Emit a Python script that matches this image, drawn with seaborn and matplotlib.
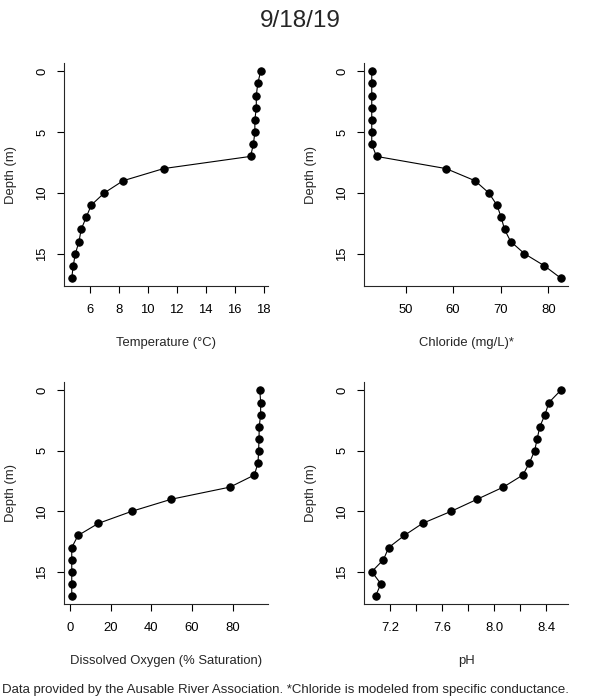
import matplotlib
matplotlib.use("Agg")
import matplotlib.pyplot as plt
import seaborn as sns
import pandas as pd

# depth profile, 9/18/19
depth = list(range(18))
temperature = [17.8, 17.6, 17.5, 17.5, 17.4, 17.4, 17.3, 17.1, 11.1, 8.3, 7.0, 6.1,
               5.75, 5.4, 5.25, 5.0, 4.85, 4.75]
chloride = [42.9, 42.9, 42.9, 42.9, 42.9, 42.9, 42.9, 43.9, 58.5, 64.6, 67.5, 69.2,
            70.1, 70.8, 72.1, 75.0, 79.2, 82.6]
oxygen = [93.4, 93.8, 93.8, 93.1, 93.0, 92.8, 92.5, 90.7, 78.7, 49.9, 30.4, 13.9,
          3.9, 0.8, 0.8, 0.8, 0.8, 0.8]
ph = [8.51, 8.42, 8.39, 8.35, 8.33, 8.31, 8.27, 8.22, 8.07, 7.87, 7.67, 7.45,
      7.31, 7.19, 7.15, 7.06, 7.13, 7.09]

df = pd.DataFrame({"depth": depth, "temp": temperature, "cl": chloride,
                   "do": oxygen, "ph": ph})

panels = [
    ("temp", "Temperature (°C)", [6, 8, 10, 12, 14, 16, 18], None),
    ("cl", "Chloride (mg/L)*", [50, 60, 70, 80], None),
    ("do", "Dissolved Oxygen (% Saturation)", [0, 20, 40, 60, 80], None),
    ("ph", "pH", [7.2, 7.4, 7.6, 7.8, 8.0, 8.2, 8.4],
     ["7.2", "", "7.6", "", "8.0", "", "8.4"]),
]

sns.set_style("ticks")
plt.rcParams["font.family"] = ["Liberation Sans", "DejaVu Sans"]
plt.rcParams["axes.linewidth"] = 0.8

fs = 9.4

fig = plt.figure(figsize=(6, 7), dpi=100)
fig.patch.set_facecolor("white")

# [left, bottom, width, height] in figure fractions
boxes = [
    [0.107, 0.591, 0.340, 0.319],
    [0.607, 0.591, 0.340, 0.319],
    [0.107, 0.137, 0.340, 0.317],
    [0.607, 0.137, 0.340, 0.317],
]

for (col, label, ticks, ticklabels), box in zip(panels, boxes):
    ax = fig.add_axes(box)
    sns.lineplot(data=df, x=col, y="depth", sort=False, estimator=None,
                 color="black", linewidth=0.8, marker="o", markersize=5.3,
                 markeredgecolor="black", markerfacecolor="black", ax=ax)
    ax.margins(x=0.04, y=0.04)
    ax.invert_yaxis()
    ax.set_yticks([0, 5, 10, 15])
    ax.set_xticks(ticks)
    if ticklabels is not None:
        ax.set_xticklabels(ticklabels)
    ax.tick_params(axis="both", length=5, width=0.8, labelsize=fs,
                   colors="black")
    ax.tick_params(axis="x", pad=8)
    ax.tick_params(axis="y", pad=6.5)
    for t in ax.get_yticklabels():
        t.set_rotation(90)
        t.set_va("center")
    ax.set_xlabel(label, fontsize=fs, labelpad=15)
    ax.set_ylabel("Depth (m)", fontsize=fs, labelpad=13.5)
    ax.grid(False)
    sns.despine(ax=ax)

fig.text(0.5, 0.97, "9/18/19", ha="center", va="center", fontsize=17.5)
fig.text(0.003, 0.006, "Data provided by the Ausable River Association. "
         "*Chloride is modeled from specific conductance.",
         ha="left", va="bottom", fontsize=9.5)

fig.savefig("out.png", dpi=100, facecolor="white")
